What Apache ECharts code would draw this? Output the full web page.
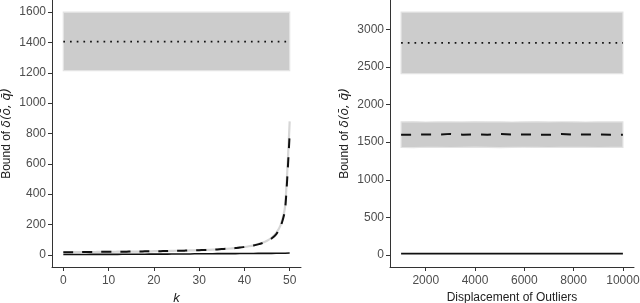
<!DOCTYPE html>
<html><head><meta charset="utf-8">
<script src="https://cdn.jsdelivr.net/npm/echarts@6/dist/echarts.min.js"></script>
<style>html,body{margin:0;padding:0;background:#fff}#c{width:640px;height:303px}</style>
</head><body><div id="c"></div>
<script>
// ---- Left panel data (k) ----
const kVals = [0,1,2,3,4,5,6,7,8,9,10,11,12,13,14,15,16,17,18,19,20,21,22,23,24,25,26,27,28,29,30,31,32,33,34,35,36,37,38,39,40,41,42,43,44,45,46,47,48,49,50];
const leftDashed = [18,18,18,18,19,19,19,19,20,20,20,20,21,21,21,22,22,22,23,23,24,24,25,25,26,27,27,28,29,30,31,32,33,34,36,38,40,42,45,48,52,56,62,69,78,90,108,135,185,300,800];
const leftGray   = [18,18,18,18,19,19,19,19,20,20,20,20,21,21,21,22,22,22,23,23,24,24,25,25,26,27,27,28,29,30,31,32,33,34,36,38,40,42,45,48,52,57,63,71,80,93,113,143,197,325,880];
const leftSolid  = [2,2,2,2,2,2,3,3,3,3,3,3,3,4,4,4,4,4,4,5,5,5,5,5,6,6,6,6,6,7,7,7,7,7,8,8,8,8,8,9,9,9,9,10,10,10,10,11,11,11,12];
const leftBandK = [0, 50];
const leftBandLow = [1215, 1215];
const leftBandHigh = [1600, 1600];
const leftDotted = [1405, 1405];
const leftYTicks = [0,200,400,600,800,1000,1200,1400,1600];
const leftXTicks = [0,10,20,30,40,50];

// ---- Right panel data (displacement) ----
const dispVals = [1000,1500,2000,2500,3000,3500,4000,4500,5000,5500,6000,6500,7000,7500,8000,8500,9000,9500,10000];
const rightDashed = [1600,1598,1603,1601,1610,1600,1604,1599,1608,1601,1603,1600,1598,1607,1599,1601,1603,1598,1600];
const rightMidLow  = [1430,1428,1432,1430,1429,1431,1433,1430,1428,1431,1432,1430,1429,1431,1430,1432,1429,1431,1430];
const rightMidHigh = [1770,1772,1768,1771,1770,1769,1772,1770,1771,1768,1770,1772,1769,1771,1770,1768,1771,1770,1770];
const rightSolid = [17,17,18,17,18,17,17,18,17,18,17,17,18,17,18,17,17,18,17];
const rightBandX = [1000, 10000];
const rightBandLow = [2410, 2410];
const rightBandHigh = [3230, 3230];
const rightDotted = [2820, 2820];
const rightYTicks = [0,500,1000,1500,2000,2500,3000];
const rightXTicks = [2000,4000,6000,8000,10000];

const pairs = (xs, ys) => xs.map((x, i) => [x, ys[i]]);

const FONT = '"Liberation Sans", Arial, sans-serif';
const bandFill = '#cccccc';
const bandEdge = '#e3e3e3';

function axisCommon(ticks, margin) {
  return {
    axisLine: {show: true, onZero: false, lineStyle: {color: '#333', width: 1}},
    axisTick: {show: true, length: 4, lineStyle: {color: '#333'}, customValues: ticks},
    axisLabel: {color: '#4d4d4d', fontSize: 12, fontFamily: FONT, customValues: ticks, margin: margin,
                formatter: v => String(v)},
    splitLine: {show: false}
  };
}

const yName = {
  name: '{n|Bound of }{i|δ(ō, q̄)}',
  nameLocation: 'middle',
  nameRotate: 90,
  nameTextStyle: {
    rich: {
      n: {fontSize: 12, fontFamily: FONT, color: '#222'},
      i: {fontSize: 12, fontFamily: '"DejaVu Sans", sans-serif', fontStyle: 'italic', color: '#222'}
    }
  }
};

function band(xi, yi, xs, lo, hi) {
  const data = xs.map((x, i) => [x, lo[i], hi[i]]);
  return {
    type: 'custom', xAxisIndex: xi, yAxisIndex: yi, silent: true, z: 1,
    data: data,
    encode: {x: 0, y: [1, 2]},
    renderItem: function (params, api) {
      if (params.dataIndex !== 0) return null;
      const top = data.map(d => api.coord([d[0], d[2]]));
      const bot = data.map(d => api.coord([d[0], d[1]])).reverse();
      return {
        type: 'polygon', shape: {points: top.concat(bot)},
        style: {fill: bandFill, stroke: bandEdge, lineWidth: 1.2}
      };
    }
  };
}

const option = {
  animation: false,
  backgroundColor: '#fff',
  grid: [
    {left: 52, right: 339, top: 0, bottom: 36, containLabel: false, outerBoundsMode: 'none'},
    {left: 390, right: 6, top: 0, bottom: 36, containLabel: false, outerBoundsMode: 'none'}
  ],
  xAxis: [
    Object.assign({type: 'value', gridIndex: 0, min: -2.5, max: 52.5,
      name: 'k', nameLocation: 'middle', nameGap: 18,
      nameTextStyle: {fontSize: 13, fontStyle: 'italic', fontFamily: FONT, color: '#222'}}, axisCommon(leftXTicks, 8)),
    Object.assign({type: 'value', gridIndex: 1, min: 550, max: 10450,
      name: 'Displacement of Outliers', nameLocation: 'middle', nameGap: 18,
      nameTextStyle: {fontSize: 12, fontFamily: FONT, color: '#222'}}, axisCommon(rightXTicks, 8))
  ],
  yAxis: [
    Object.assign({type: 'value', gridIndex: 0, min: -80, max: 1680, nameGap: 39}, yName, axisCommon(leftYTicks, 6)),
    Object.assign({type: 'value', gridIndex: 1, min: -160, max: 3390, nameGap: 39}, yName, axisCommon(rightYTicks, 6))
  ],
  series: [
    band(0, 0, leftBandK, leftBandLow, leftBandHigh),
    {type: 'line', xAxisIndex: 0, yAxisIndex: 0, data: pairs(leftBandK, leftDotted), symbol: 'none',
     lineStyle: {color: '#111', width: 1.7, type: [1.7, 5]}, z: 3},
    {type: 'line', xAxisIndex: 0, yAxisIndex: 0, data: pairs(kVals, leftGray), symbol: 'none', smooth: 0.2,
     lineStyle: {color: '#d6d6d6', width: 2.2}, z: 2},
    {type: 'line', xAxisIndex: 0, yAxisIndex: 0, data: pairs(kVals, leftDashed), symbol: 'none', smooth: 0.2,
     lineStyle: {color: '#111', width: 2, type: [10, 9]}, z: 3},
    {type: 'line', xAxisIndex: 0, yAxisIndex: 0, data: pairs(kVals, leftSolid), symbol: 'none',
     lineStyle: {color: '#111', width: 1.6}, z: 3},

    band(1, 1, rightBandX, rightBandLow, rightBandHigh),
    band(1, 1, dispVals, rightMidLow, rightMidHigh),
    {type: 'line', xAxisIndex: 1, yAxisIndex: 1, data: pairs(rightBandX, rightDotted), symbol: 'none',
     lineStyle: {color: '#111', width: 1.7, type: [1.7, 5]}, z: 3},
    {type: 'line', xAxisIndex: 1, yAxisIndex: 1, data: pairs(dispVals, rightDashed), symbol: 'none',
     lineStyle: {color: '#111', width: 2, type: [10, 10]}, z: 3},
    {type: 'line', xAxisIndex: 1, yAxisIndex: 1, data: pairs(dispVals, rightSolid), symbol: 'none',
     lineStyle: {color: '#111', width: 1.8}, z: 3}
  ]
};

const chart = echarts.init(document.getElementById('c'), null, {renderer: 'canvas'});
chart.setOption(option);
</script>
</body></html>
